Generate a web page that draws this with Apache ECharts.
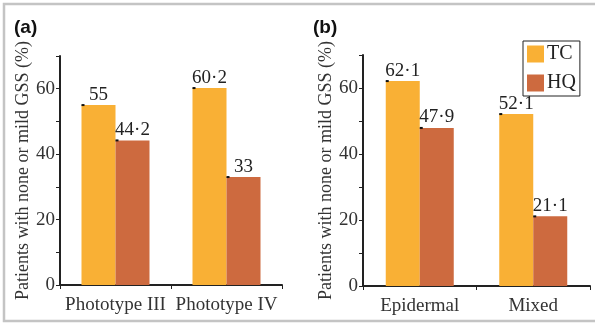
<!DOCTYPE html>
<html>
<head>
<meta charset="utf-8">
<script src="https://cdn.jsdelivr.net/npm/echarts@6/dist/echarts.min.js"></script>
<style>
  html, body { margin: 0; padding: 0; background: #fff; }
  #chart { width: 595px; height: 327px; }
</style>
</head>
<body>
<div id="chart"></div>
<script>
// panel (a): skin phototype, panel (b): melasma type
const categoriesA = ['Phototype III', 'Phototype IV'];
const categoriesB = ['Epidermal', 'Mixed'];
const seriesNames = ['TC', 'HQ'];
const tcA = [55, 60.2];
const hqA = [44.2, 33];
const tcB = [62.1, 52.1];
const hqB = [47.9, 21.1];
const yTicks = [0, 20, 40, 60];

const TC_COLOR = '#f9b035';
const HQ_COLOR = '#cd6a3f';
const SERIF = '"Liberation Serif", "DejaVu Serif", serif';
const BAR_W = 34;

const chart = echarts.init(document.getElementById('chart'));

function fmt(v) {
  return String(v).replace('.', '·');
}

function barSeries(name, data, idx, color) {
  return {
    name,
    type: 'bar',
    xAxisIndex: idx,
    yAxisIndex: idx,
    barWidth: BAR_W,
    barGap: 0,
    itemStyle: { color },
    label: {
      show: true,
      position: 'top',
      distance: 1,
      formatter: p => fmt(p.value),
      fontFamily: SERIF,
      fontSize: 19,
      color: '#222'
    },
    data
  };
}

// little black marks at the upper-left corner of each bar
function markSeries(data, idx, shift) {
  return {
    type: 'custom',
    xAxisIndex: idx,
    yAxisIndex: idx,
    silent: true,
    z: 5,
    renderItem: (params, api) => {
      const p = api.coord([api.value(0), api.value(1)]);
      return {
        type: 'rect',
        shape: { x: p[0] + shift, y: p[1] - 1, width: 3, height: 2 },
        style: { fill: '#111' }
      };
    },
    data: data.map((v, i) => [i, v])
  };
}

function yAxis(idx) {
  return {
    type: 'value',
    gridIndex: idx,
    min: 0,
    max: 70,
    interval: 10,
    name: 'Patients with none or mild GSS (%)',
    nameLocation: 'middle',
    nameGap: 28,
    nameTextStyle: { fontFamily: SERIF, fontSize: 18, color: '#333' },
    axisLine: { show: true, lineStyle: { color: '#222', width: 2 } },
    axisTick: { show: true, length: 4, lineStyle: { color: '#222', width: 1 } },
    axisLabel: {
      margin: 5,
      fontFamily: SERIF,
      fontSize: 19,
      color: '#333',
      formatter: v => (yTicks.includes(v) ? String(v) : '')
    },
    splitLine: { show: false }
  };
}

function xAxis(idx, cats) {
  return {
    type: 'category',
    gridIndex: idx,
    data: cats,
    axisLine: { lineStyle: { color: '#222', width: 2 } },
    axisTick: { show: true, length: 4, lineStyle: { color: '#222' } },
    axisLabel: {
      interval: 0,
      hideOverlap: false,
      margin: 11,
      fontFamily: SERIF,
      fontSize: 19,
      color: '#333'
    }
  };
}

const option = {
  animation: false,
  backgroundColor: '#fff',
  grid: [
    { left: 60, right: 313, top: 56, bottom: 42 },
    { left: 363, right: 5, top: 55, bottom: 41 }
  ],
  xAxis: [xAxis(0, categoriesA), xAxis(1, categoriesB)],
  yAxis: [yAxis(0), yAxis(1)],
  legend: {
    data: seriesNames,
    orient: 'vertical',
    left: 523,
    top: 41,
    itemWidth: 17,
    itemHeight: 17,
    itemGap: 9,
    icon: 'rect',
    padding: [3, 4, 3, 4],
    borderColor: '#222',
    borderWidth: 1,
    borderRadius: 0,
    textStyle: { fontFamily: SERIF, fontSize: 20, color: '#222', padding: [0, 0, 0, -2] }
  },
  graphic: [
    {
      type: 'rect',
      shape: { x: 4, y: 4, width: 600, height: 317 },
      style: { fill: 'none', stroke: '#c4c4c4', lineWidth: 2.5 }
    },
    {
      type: 'text', left: 14, top: 18,
      style: { text: '(a)', font: 'bold 19px "Liberation Sans", Arial, sans-serif', fill: '#111' }
    },
    {
      type: 'text', left: 313, top: 18,
      style: { text: '(b)', font: 'bold 19px "Liberation Sans", Arial, sans-serif', fill: '#111' }
    }
  ],
  series: [
    barSeries('TC', tcA, 0, TC_COLOR),
    barSeries('HQ', hqA, 0, HQ_COLOR),
    barSeries('TC', tcB, 1, TC_COLOR),
    barSeries('HQ', hqB, 1, HQ_COLOR),
    markSeries(tcA, 0, -BAR_W),
    markSeries(hqA, 0, 0),
    markSeries(tcB, 1, -BAR_W),
    markSeries(hqB, 1, 0)
  ]
};

chart.setOption(option);
</script>
</body>
</html>
